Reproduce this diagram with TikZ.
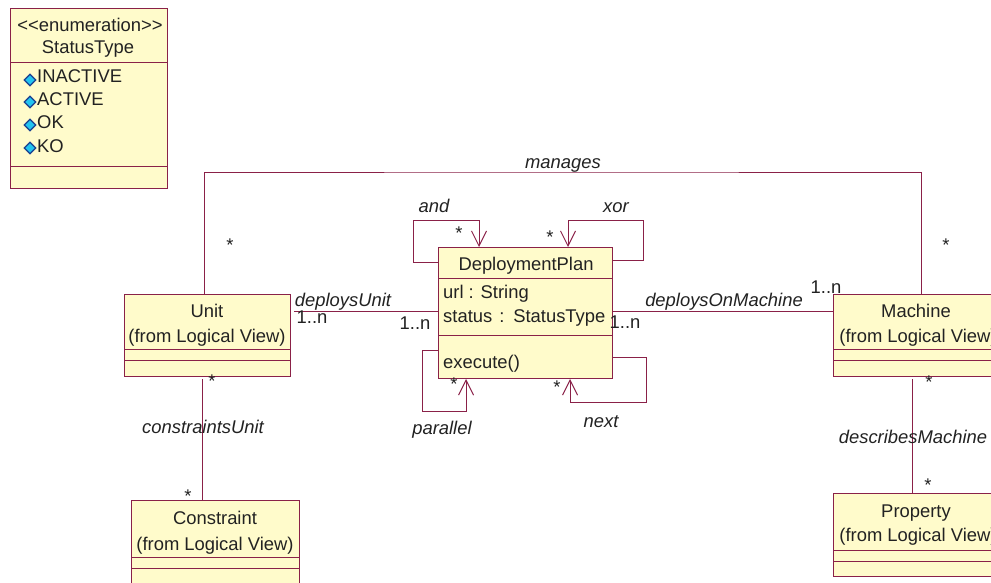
\documentclass[tikz,border=0pt]{standalone}
\usepackage{fontspec}
\setmainfont{Liberation Sans}
\usetikzlibrary{arrows.meta,shapes.geometric}
\definecolor{umlline}{HTML}{8A2148}
\definecolor{umlfill}{HTML}{FFFBCB}
\definecolor{umltext}{HTML}{222222}
\definecolor{litfill}{HTML}{22C4F0}
\definecolor{litline}{HTML}{1A3F8F}
\tikzset{
 umlbox/.style={draw=umlline,fill=umlfill,line width=1pt,rectangle,inner sep=0pt,anchor=north west},
 conn/.style={draw=umlline,line width=1pt},
 barb/.style={-{Straight Barb[length=15pt,width=15pt,line width=1pt]}},
 txt/.style={text=umltext,font=\fontsize{18.4}{20}\selectfont,inner sep=0pt,text height=13.5pt,text depth=4pt,yshift=-1.5pt},
 lefttxt/.style={txt,anchor=west},
 role/.style={txt,font=\fontsize{18.4}{20}\selectfont\itshape},
 star/.style={txt},
 lit/.style={diamond,draw=litline,fill=litfill,line width=1.2pt,inner sep=0pt,minimum width=12pt,minimum height=12pt,aspect=1},
}
\begin{document}
\begin{tikzpicture}[x=1pt,y=-1pt]
\useasboundingbox (0,0) rectangle (991,582);
\fill[white] (0,0) rectangle (991,582);
\clip (0,0) rectangle (991,582);

% boxes
\node[umlbox,minimum width=157pt,minimum height=180pt] (status) at (10,8) {};
\node[umlbox,minimum width=174pt,minimum height=131pt] (plan) at (438,247) {};
\node[umlbox,minimum width=166pt,minimum height=82pt] (unit) at (124,294) {};
\node[umlbox,minimum width=168pt,minimum height=90pt] (constraint) at (131,500) {};
\node[umlbox,minimum width=166pt,minimum height=82pt] (machine) at (833,294) {};
\node[umlbox,minimum width=166pt,minimum height=83pt] (property) at (833,493) {};

% dividers
\foreach \b/\y in {status/62,status/166,plan/278,plan/335,unit/349,unit/360,constraint/557,constraint/568,machine/349,machine/360,property/550,property/561}
  \draw[conn] (\b.west |- 0,\y) -- (\b.east |- 0,\y);

% connectors
\coordinate (managesTop) at (560,172);
\draw[conn] ([xshift=-3pt]unit.north) |- (managesTop) -| ([xshift=5pt]machine.north);
\draw[conn] ([yshift=1.5pt]plan.west) -- ([yshift=1.5pt,xshift=3pt]plan.west -| unit.east);
\draw[conn] ([yshift=1.5pt]plan.east) -- ([yshift=1.5pt]plan.east -| machine.west);
\draw[conn,barb] (plan.west |- 0,262) -- (413,262) -- (413,220) -- (479,220) -- (plan.north -| 479,0);
\draw[conn,barb] (plan.east |- 0,260) -- (643,260) -- (643,220) -- (568,220) -- (plan.north -| 568,0);
\draw[conn,barb] (plan.west |- 0,350) -- (422,350) -- (422,411) -- (466,411) -- (plan.south -| 466,0);
\draw[conn,barb] (plan.east |- 0,357) -- (646,357) -- (646,402) -- (570,402) -- (plan.south -| 570,0);
\draw[conn] ([yshift=-2pt]unit.south -| 202,0) -- (constraint.north -| 202,0);
\draw[conn] ([yshift=-2pt]machine.south -| 912,0) -- (property.north -| 912,0);

% StatusType
\node[txt] (st1) at (90,25) {<{}<enumeration>{}>};
\node[txt] (st2) at (88,47) {StatusType};
\node[lit] (d1) at (30,80) {};
\node[lit] (d2) at (30,102) {};
\node[lit] (d3) at (30,125) {};
\node[lit] (d4) at (30,148) {};
\node[lefttxt] (l1) at (37,76) {INACTIVE};
\node[lefttxt] (l2) at (37,99) {ACTIVE};
\node[lefttxt] (l3) at (37,122) {OK};
\node[lefttxt] (l4) at (37,146) {KO};

% class texts
\node[txt] (t1) at (526,264) {DeploymentPlan};
\node[lefttxt] (t2) at (443,292) {url : String};
\node[lefttxt] (t3) at (443,316) {status\kern2pt{} : \kern2pt{}StatusType};
\node[lefttxt] (t4) at (443,362) {execute()};
\node[txt] (u1) at (207,311) {Unit};
\node[txt] (u2) at (207,336) {(from Logical View)};
\node[txt] (c1) at (215,518) {Constraint};
\node[txt] (c2) at (215,544) {(from Logical View)};
\node[txt] (m1) at (916,311) {Machine};
\node[txt] (m2) at (918,336) {(from Logical View)};
\node[txt] (p1) at (916,511) {Property};
\node[txt] (p2) at (918,535) {(from Logical View)};

% roles
\node[role] (r1) at (563,162) {manages};
\node[role] (r2) at (434,206) {and};
\node[role] (r3) at (616,206) {xor};
\node[role] (r4) at (343,300) {deploysUnit};
\node[role] (r5) at (724,300) {deploysOnMachine};
\node[role] (r6) at (442,428) {parallel};
\node[role] (r7) at (601,421) {next};
\node[role] (r8) at (203,427) {constraintsUnit};
\node[role] (r9) at (913,437) {describesMachine};

% multiplicities
\node[txt] (n1) at (312,317) {1..n};
\node[txt] (n2) at (415,323) {1..n};
\node[txt] (n3) at (625,322) {1..n};
\node[txt] (n4) at (826,287) {1..n};
\foreach \n/\x/\y in {s1/230/245,s2/946/245,s3/459/233,s4/550/237,s5/454/384,s6/557/387,s7/212/381,s8/188/496,s9/929/382,s10/928/485}
  \node[star] (\n) at (\x,\y) {*};
\end{tikzpicture}
\end{document}
